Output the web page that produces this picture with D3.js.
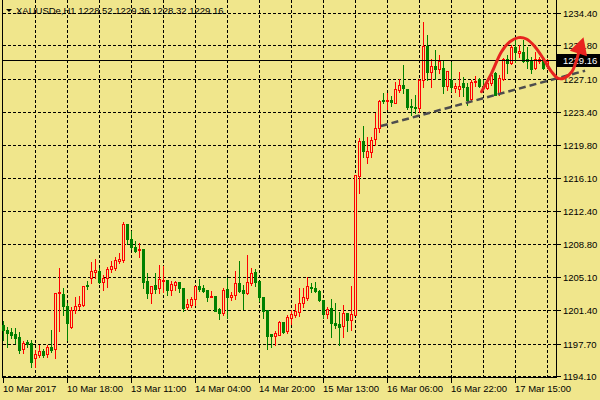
<!DOCTYPE html>
<html><head><meta charset="utf-8">
<script src="https://cdn.jsdelivr.net/npm/d3@7/dist/d3.min.js"></script>
<style>html,body{margin:0;padding:0;background:#F0E68C;}svg{display:block;}</style>
</head><body>
<svg id="c" width="600" height="400"></svg>
<script>
const symbol = "XAUUSDe,H1";
const opens = [1199.8,1199.26,1199.04,1198.8,1198.5,1197.12,1197.9,1197.78,1196.1,1196.5,
1196.97,1196.55,1197.37,1197.2,1203.4,1203.3,1201.96,1199.6,1201.5,1201.9,
1202.07,1204.25,1205.07,1205.7,1205.8,1204.6,1205.07,1206.0,1206.2,1206.96,
1207.03,1211.0,1209.36,1208.5,1208.1,1208.25,1204.7,1203.4,1204.25,1203.9,
1204.7,1204.8,1203.7,1204.3,1204.6,1203.9,1201.85,1202.03,1202.66,1204.2,
1203.9,1203.7,1202.96,1203.0,1201.6,1201.14,1203.8,1202.97,1203.2,1204.43,
1203.68,1203.42,1204.43,1205.66,1204.69,1202.9,1201.5,1198.82,1198.63,1198.71,
1200.13,1199.12,1200.58,1200.95,1201.25,1202.3,1202.82,1204.06,1203.9,1203.6,
1202.6,1201.07,1201.7,1200.08,1199.94,1199.72,1201.12,1200.38,1200.94,1216.4,
1220.29,1218.51,1219.07,1220.43,1221.66,1224.77,1224.65,1224.8,1224.5,1225.91,
1226.47,1225.98,1224.13,1223.98,1223.87,1227.02,1230.8,1227.95,1228.57,1228.2,
1228.3,1226.4,1227.0,1226.1,1226.02,1226.65,1226.2,1224.9,1226.8,1227.1,
1226.4,1226.17,1226.65,1227.76,1225.54,1227.1,1229.4,1228.87,1230.72,1229.98,
1230.17,1229.3,1229.13,1228.3,1229.13,1229.4,1228.52];
const highs = [1200.3,1199.56,1199.45,1199.45,1199.04,1198.04,1198.15,1198.15,1197.04,1197.6,
1197.2,1197.6,1199.3,1203.4,1206.2,1203.9,1202.3,1201.85,1202.96,1203.0,
1204.2,1204.66,1206.85,1207.1,1206.2,1205.4,1206.3,1206.96,1207.4,1207.85,
1211.2,1211.0,1210.2,1209.1,1208.9,1208.25,1205.6,1204.2,1205.55,1206.5,
1206.4,1204.8,1204.7,1204.7,1204.6,1203.9,1202.7,1202.9,1204.2,1204.96,
1204.25,1203.7,1203.6,1203.0,1201.7,1203.94,1204.99,1203.5,1205.8,1206.9,
1204.3,1207.6,1206.1,1206.0,1204.69,1202.9,1201.5,1198.82,1199.2,1200.3,
1200.2,1200.95,1201.44,1202.18,1203.87,1203.87,1205.1,1204.5,1204.55,1203.7,
1202.6,1201.82,1202.67,1202.23,1201.3,1202.05,1201.12,1204.15,1216.47,1220.55,
1221.9,1220.73,1220.73,1223.39,1224.8,1225.6,1225.54,1225.24,1226.8,1227.1,
1228.7,1225.98,1224.87,1225.35,1227.1,1233.5,1232.0,1229.3,1230.4,1229.8,
1229.13,1228.0,1229.05,1226.65,1227.9,1227.3,1226.65,1227.0,1227.46,1227.2,
1227.0,1227.0,1228.0,1227.95,1227.6,1229.5,1229.8,1230.9,1231.7,1230.9,
1231.46,1230.7,1229.6,1230.1,1229.6,1229.5,1229.36];
const lows = [1198.2,1197.4,1198.34,1197.85,1196.7,1196.75,1197.4,1195.2,1195.2,1196.3,
1196.3,1196.3,1196.85,1196.1,1199.1,1200.9,1198.2,1199.5,1201.2,1201.6,
1201.9,1203.85,1204.5,1205.0,1204.5,1203.7,1204.0,1205.7,1205.9,1206.7,
1206.85,1208.8,1208.2,1207.96,1207.4,1203.96,1202.77,1202.3,1203.4,1203.4,
1203.5,1203.2,1203.15,1203.7,1203.5,1201.4,1201.56,1201.85,1202.03,1203.6,
1203.5,1202.5,1202.96,1201.4,1200.45,1200.88,1200.58,1202.56,1202.67,1203.49,
1201.55,1203.27,1204.24,1204.17,1202.45,1200.58,1197.14,1197.32,1197.6,1198.71,
1198.93,1198.93,1199.94,1200.69,1200.8,1201.81,1202.56,1203.5,1203.43,1202.5,
1200.6,1200.6,1198.5,1199.45,1197.6,1198.53,1199.1,1199.27,1200.9,1214.44,
1218.44,1217.84,1218.44,1219.8,1221.28,1224.43,1223.76,1224.13,1224.43,1225.7,
1225.6,1223.76,1223.13,1223.32,1223.5,1226.28,1227.02,1226.28,1227.1,1227.8,
1225.54,1225.9,1225.8,1225.7,1225.2,1225.2,1224.24,1224.8,1226.35,1226.2,
1225.9,1226.0,1226.5,1225.3,1225.35,1227.02,1227.76,1228.76,1229.06,1229.6,
1229.06,1228.3,1227.76,1228.24,1228.9,1228.24,1228.32];
const closes = [1199.26,1198.96,1198.74,1198.4,1197.04,1197.78,1197.7,1195.75,1196.6,1196.9,
1196.52,1197.37,1197.04,1203.4,1203.5,1201.96,1200.0,1201.5,1201.96,1202.1,
1204.2,1204.15,1205.77,1205.9,1204.6,1205.07,1206.0,1206.4,1207.03,1207.14,
1211.0,1209.4,1208.5,1208.07,1208.25,1204.6,1203.4,1204.2,1203.8,1204.9,
1204.8,1203.7,1204.4,1204.6,1203.96,1201.7,1202.15,1202.7,1204.2,1203.8,
1203.6,1202.96,1203.07,1201.4,1201.15,1203.68,1202.93,1203.16,1204.43,1203.57,
1203.38,1204.54,1205.55,1204.62,1202.93,1201.4,1198.56,1198.63,1198.93,1200.2,
1199.0,1200.76,1200.99,1201.32,1202.3,1202.93,1204.13,1203.87,1203.6,1202.6,
1201.07,1201.63,1200.0,1199.83,1199.64,1201.12,1200.38,1201.05,1216.47,1220.25,
1219.18,1219.14,1220.36,1221.66,1224.73,1224.7,1224.8,1224.6,1225.98,1226.47,
1226.1,1224.06,1223.98,1223.87,1227.02,1230.8,1227.95,1228.57,1228.2,1229.15,
1226.4,1228.0,1226.2,1226.3,1226.3,1226.2,1224.8,1226.8,1226.9,1226.3,
1226.1,1226.65,1227.6,1225.35,1227.2,1229.4,1228.87,1230.72,1230.1,1230.24,
1229.13,1229.1,1228.24,1229.4,1229.3,1228.4,1229.16];
const timeLabels = ["10 Mar 2017","10 Mar 18:00","13 Mar 11:00","14 Mar 04:00","14 Mar 20:00","15 Mar 13:00","16 Mar 06:00","16 Mar 22:00","17 Mar 15:00"];
const timeLabelBars = [0,16,32,48,64,80,96,112,128];
const gridBars = [8,16,24,32,40,48,56,64,72,80,88,96,104,112,120,128,136];
const priceLabels = ["1234.40","1230.80","1227.10","1223.40","1219.80","1216.10","1212.40","1208.80","1205.10","1201.40","1197.70","1194.10"];
const lastPrice = 1229.16;
// annotations, in (bar index, price)
const trendBars = [94.35, 145.4];
const trendPrices = [1221.91, 1228.05];
const arrowBars = [119.5,122.0,124.5,126.6,128.7,130.75,132.85,134.9,137.0,138.7,140.2,142.1,143.75,145.0];
const arrowPrices = [1225.72,1227.76,1230.16,1231.27,1231.72,1231.57,1230.72,1229.43,1227.94,1227.19,1227.24,1227.94,1229.98,1231.76];

const BG = "#F0E68C", UP = "#FF0000", DN = "#008000";
const svg = d3.select("#c");
const L = 2.5, R = 556.5, B = 377.5;
const x = d3.scaleLinear().domain([0, 136]).range([3.5, 547.5]);
const y = d3.scaleLinear().domain([1194.10, 1234.40]).range([376.5, 13.5]);
const snap = v => Math.floor(v) + 0.5;

svg.append("rect").attr("width", 600).attr("height", 400).attr("fill", BG);

// grid
const g = svg.append("g").attr("stroke", "#000").attr("stroke-width", 1).attr("stroke-dasharray", "3,2").attr("shape-rendering", "crispEdges");
g.selectAll("line.h").data(priceLabels).join("line")
  .attr("x1", L).attr("x2", R).attr("y1", d => snap(y(+d))).attr("y2", d => snap(y(+d)));
g.selectAll("line.v").data(gridBars).join("line").attr("class","v")
  .attr("y1", 0).attr("y2", B).attr("x1", d => x(d)).attr("x2", d => x(d));

// frame
const fr = svg.append("g").attr("stroke", "#000").attr("stroke-width", 1).attr("shape-rendering", "crispEdges");
fr.append("line").attr("x1", L).attr("x2", L).attr("y1", 0).attr("y2", B);
fr.append("line").attr("x1", R).attr("x2", R).attr("y1", 0).attr("y2", B);
fr.append("line").attr("x1", L).attr("x2", R).attr("y1", B).attr("y2", B);

// candles
const bars = d3.range(opens.length).map(i => ({i, o: opens[i], h: highs[i], l: lows[i], c: closes[i]}));
const cg = svg.append("g").attr("shape-rendering", "crispEdges");
bars.forEach(d => {
  const up = d.c >= d.o;
  const col = up ? UP : DN;
  const cx = x(d.i);
  const yh = Math.round(y(d.h)), yl = Math.round(y(d.l));
  cg.append("line").attr("x1", cx).attr("x2", cx).attr("y1", yh).attr("y2", yl + 1).attr("stroke", col).attr("stroke-width", 1);
  const t = Math.round(y(Math.max(d.o, d.c))), b = Math.round(y(Math.min(d.o, d.c)));
  if (b - t < 1) {
    cg.append("line").attr("x1", cx - 1.5).attr("x2", cx + 1.5).attr("y1", t + 0.5).attr("y2", t + 0.5).attr("stroke", col);
  } else if (up) {
    cg.append("rect").attr("x", cx - 1).attr("width", 2).attr("y", t + 0.5).attr("height", b - t)
      .attr("fill", BG).attr("stroke", col).attr("stroke-width", 1);
  } else {
    cg.append("rect").attr("x", cx - 1.5).attr("width", 3).attr("y", t).attr("height", b - t + 1).attr("fill", col);
  }
});

// last price line
svg.append("line").attr("x1", L).attr("x2", R).attr("y1", snap(y(lastPrice))).attr("y2", snap(y(lastPrice)))
  .attr("stroke", "#000").attr("shape-rendering", "crispEdges");

// price axis
const pa = svg.append("g").attr("font-family", "Liberation Sans, Arial, sans-serif").attr("font-size", "9.5px");
priceLabels.forEach(p => {
  const yy = snap(y(+p));
  pa.append("line").attr("x1", R).attr("x2", R + 4).attr("y1", yy).attr("y2", yy).attr("stroke", "#000").attr("shape-rendering", "crispEdges");
  pa.append("text").attr("x", 563).attr("y", yy).attr("dy", "0.35em").attr("fill", "#000").text(p);
});

// time axis
const ta = svg.append("g").attr("font-family", "Liberation Sans, Arial, sans-serif").attr("font-size", "9.5px");
timeLabelBars.forEach((bi, k) => {
  ta.append("line").attr("x1", x(bi)).attr("x2", x(bi)).attr("y1", B).attr("y2", B + 5).attr("stroke", "#000").attr("shape-rendering", "crispEdges");
  ta.append("text").attr("x", x(bi) - 0.5).attr("y", 392).attr("fill", "#000").text(timeLabels[k]);
});

// title
svg.append("path").attr("d", "M6,9 L12,9 L9,12 Z").attr("fill", "#000");
svg.append("text").attr("x", 16).attr("y", 13.5).attr("font-family", "Liberation Sans, Arial, sans-serif").attr("font-size", "9.5px")
  .attr("fill", "#000")
  .text(`${symbol} ${opens[opens.length-1].toFixed(2)} ${highs[highs.length-1].toFixed(2)} ${lows[lows.length-1].toFixed(2)} ${closes[closes.length-1].toFixed(2)}`);

// trend line (dashed)
svg.append("line").attr("x1", x(trendBars[0])).attr("y1", y(trendPrices[0])).attr("x2", x(trendBars[1])).attr("y2", y(trendPrices[1]))
  .attr("stroke", "#4d4d4d").attr("stroke-width", 2.5).attr("stroke-dasharray", "7,4");

// current price tag
const ly = snap(y(lastPrice));
svg.append("rect").attr("x", 557).attr("y", ly - 6.5).attr("width", 43).attr("height", 13).attr("fill", "#000");
svg.append("text").attr("x", 563).attr("y", ly).attr("dy", "0.35em").attr("fill", "#fff")
  .attr("font-family", "Liberation Sans, Arial, sans-serif").attr("font-size", "9.5px").text(lastPrice.toFixed(2));

// red arrow
const pts = arrowBars.map((b, i) => [x(b), y(arrowPrices[i])]);
const tip = pts[pts.length - 1], prev = pts[pts.length - 2];
const ang = Math.atan2(tip[1] - prev[1], tip[0] - prev[0]);
const hl = 17, hw = 9;
const base = [tip[0] - hl * Math.cos(ang), tip[1] - hl * Math.sin(ang)];
const curvePts = pts.slice(0, -1).concat([[base[0] + 3 * Math.cos(ang), base[1] + 3 * Math.sin(ang)]]);
svg.append("path").attr("d", d3.line().curve(d3.curveCatmullRom)(curvePts))
  .attr("fill", "none").attr("stroke", "#e8231f").attr("stroke-width", 3).attr("stroke-linecap", "round");
svg.append("path").attr("d", `M${tip[0]},${tip[1]} L${base[0] - hw * Math.sin(ang)},${base[1] + hw * Math.cos(ang)} L${base[0] + hw * Math.sin(ang)},${base[1] - hw * Math.cos(ang)} Z`)
  .attr("fill", "#e8231f");
</script>
</body></html>
